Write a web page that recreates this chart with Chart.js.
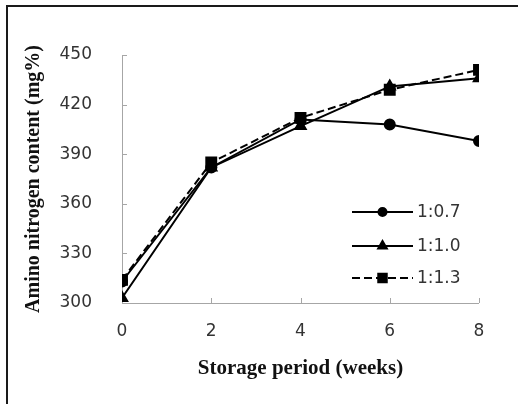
<!DOCTYPE html>
<html>
<head>
<meta charset="utf-8">
<script src="https://cdn.jsdelivr.net/npm/chart.js@4"></script>
<style>
  html, body { margin: 0; padding: 0; background: #fff; }
  #wrap { width: 518px; height: 404px; position: relative; }
</style>
</head>
<body>
<div id="wrap"><canvas id="chart" width="518" height="404"></canvas></div>
<script>
const weeks = [0, 2, 4, 6, 8];
const seriesNames = ['1:0.7', '1:1.0', '1:1.3'];
const ratio07 = [313, 382, 411, 408, 398];
const ratio10 = [303, 382, 407, 431, 436];
const ratio13 = [314, 385, 412, 429, 441];
const yTicks = [300, 330, 360, 390, 420, 450];

const toPoints = (vals) => vals.map((v, i) => ({ x: weeks[i], y: v }));

// frame of the chart area, only top and left edges are visible in the picture
const framePlugin = {
  id: 'frame',
  afterDraw(chart) {
    const ctx = chart.ctx;
    ctx.save();
    ctx.strokeStyle = '#1a1a1a';
    ctx.lineWidth = 2;
    ctx.beginPath();
    ctx.moveTo(7, 404);
    ctx.lineTo(7, 6);
    ctx.lineTo(518, 6);
    ctx.stroke();
    ctx.restore();
  }
};

// axis lines with inward tick marks
const axisPlugin = {
  id: 'axisLines',
  beforeDatasetsDraw(chart) {
    const { ctx, chartArea, scales } = chart;
    ctx.save();
    ctx.strokeStyle = '#a6a6a6';
    ctx.lineWidth = 1;
    ctx.beginPath();
    ctx.moveTo(chartArea.left + 0.5, chartArea.top);
    ctx.lineTo(chartArea.left + 0.5, chartArea.bottom + 0.5);
    ctx.lineTo(chartArea.right, chartArea.bottom + 0.5);
    yTicks.forEach((v) => {
      const y = Math.round(scales.y.getPixelForValue(v)) + 0.5;
      ctx.moveTo(chartArea.left, y);
      ctx.lineTo(chartArea.left + 5, y);
    });
    weeks.forEach((w) => {
      const x = Math.round(scales.x.getPixelForValue(w)) + 0.5;
      ctx.moveTo(x, chartArea.bottom);
      ctx.lineTo(x, chartArea.bottom - 5);
    });
    ctx.stroke();
    ctx.restore();
  }
};

// legend drawn as line + marker + label, like the original
const legendPlugin = {
  id: 'lineLegend',
  afterDraw(chart) {
    const ctx = chart.ctx;
    const x0 = 352, x1 = 413, rows = [212, 246, 278];
    ctx.save();
    chart.data.datasets.forEach((ds, i) => {
      const y = rows[i];
      ctx.strokeStyle = ds.borderColor;
      ctx.lineWidth = ds.borderWidth;
      ctx.setLineDash(ds.borderDash || []);
      ctx.beginPath();
      ctx.moveTo(x0, y);
      ctx.lineTo(x1, y);
      ctx.stroke();
      ctx.setLineDash([]);
      ctx.fillStyle = ds.pointBackgroundColor;
      Chart.helpers.drawPoint(ctx, {
        pointStyle: ds.pointStyle,
        radius: ds.pointRadius - 1,
        borderWidth: 1
      }, (x0 + x1) / 2, y);
      ctx.fillStyle = '#333';
      ctx.font = '17px "DejaVu Sans"';
      ctx.textBaseline = 'middle';
      ctx.textAlign = 'left';
      ctx.fillText(ds.label, x1 + 4, y + 1);
    });
    ctx.restore();
  }
};

new Chart(document.getElementById('chart'), {
  type: 'line',
  data: {
    datasets: [
      {
        label: seriesNames[0],
        data: toPoints(ratio07),
        borderColor: '#000',
        borderWidth: 2,
        pointStyle: 'circle',
        pointRadius: 5,
        pointBackgroundColor: '#000',
        pointBorderColor: '#000'
      },
      {
        label: seriesNames[1],
        data: toPoints(ratio10),
        borderColor: '#000',
        borderWidth: 2,
        pointStyle: 'triangle',
        pointRadius: 6,
        pointBackgroundColor: '#000',
        pointBorderColor: '#000'
      },
      {
        label: seriesNames[2],
        data: toPoints(ratio13),
        borderColor: '#000',
        borderWidth: 2,
        borderDash: [8, 4],
        pointStyle: 'rect',
        pointRadius: 7,
        pointBackgroundColor: '#000',
        pointBorderColor: '#000'
      }
    ]
  },
  options: {
    responsive: false,
    animation: false,
    events: [],
    layout: { padding: { left: 22, top: 55, right: 39, bottom: 19 } },
    plugins: {
      legend: { display: false },
      tooltip: { enabled: false }
    },
    scales: {
      x: {
        type: 'linear',
        min: 0,
        max: 8,
        afterBuildTicks: (scale) => { scale.ticks = weeks.map((v) => ({ value: v })); },
        afterFit: (scale) => { scale.height = 82; },
        grid: { display: false, drawTicks: false },
        border: { display: false },
        ticks: {
          padding: 18,
          color: '#333',
          font: { family: 'DejaVu Sans', size: 17 }
        },
        title: {
          display: true,
          text: 'Storage period (weeks)',
          color: '#111',
          padding: { top: 0, bottom: 4 },
          font: { family: 'Liberation Serif', size: 21, weight: 'bold' }
        }
      },
      y: {
        min: 300,
        max: 450,
        afterBuildTicks: (scale) => { scale.ticks = yTicks.map((v) => ({ value: v })); },
        afterFit: (scale) => { scale.width = 100; },
        grid: { display: false, drawTicks: false },
        border: { display: false },
        ticks: {
          padding: 30,
          color: '#333',
          font: { family: 'DejaVu Sans', size: 17 }
        },
        title: {
          display: true,
          text: 'Amino nitrogen content (mg%)',
          color: '#111',
          padding: 0,
          font: { family: 'Liberation Serif', size: 20, weight: 'bold' }
        }
      }
    }
  },
  plugins: [framePlugin, axisPlugin, legendPlugin]
});
</script>
</body>
</html>
